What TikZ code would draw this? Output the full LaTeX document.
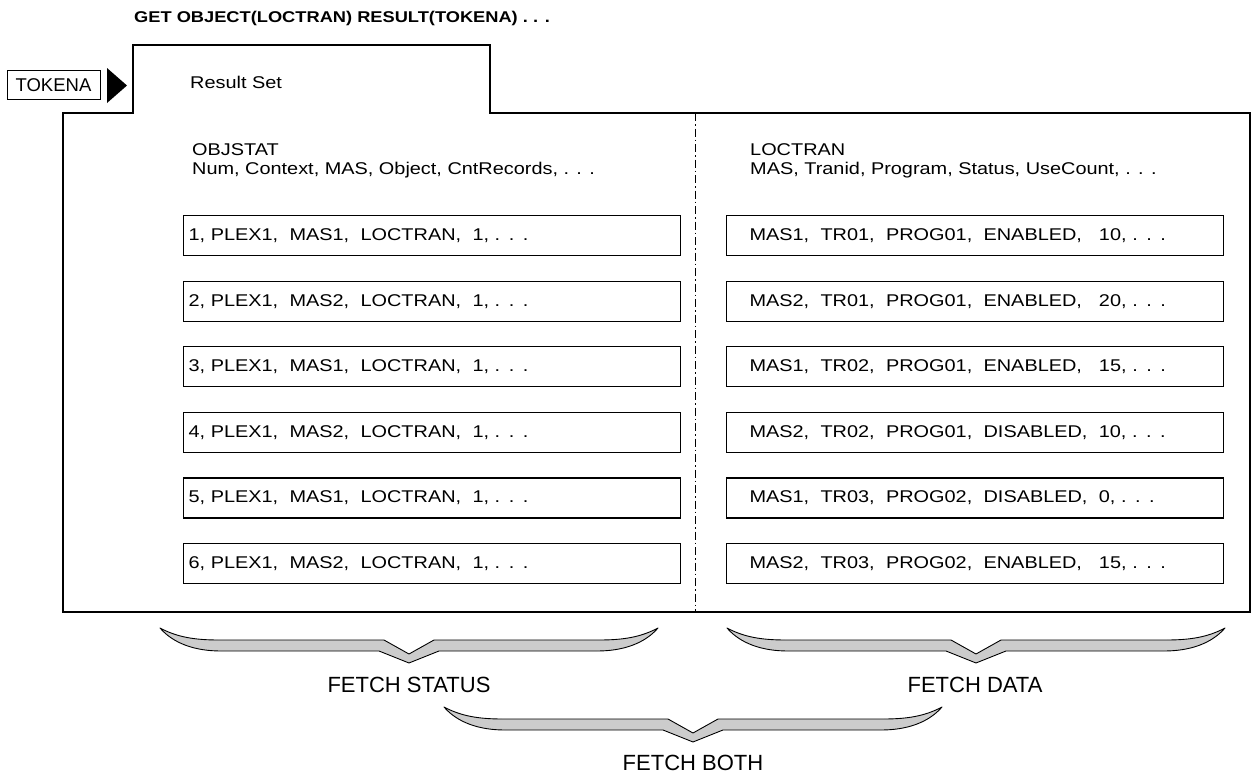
\documentclass[tikz,border=0pt]{standalone}
\usepackage{fontspec}
\setmainfont{Liberation Sans}
\newfontfamily\bodyfont[FakeStretch=1.17]{Liberation Sans}
\begin{document}
\begin{tikzpicture}[x=1pt,y=-1pt,
  txt/.style={inner sep=0pt,anchor=base west,font=\bodyfont\fontsize{17}{20}\selectfont},
  lbl/.style={inner sep=0pt,anchor=base,font=\fontsize{22}{26}\selectfont},
  rowbox/.style={draw,line width=1.1pt,rectangle,anchor=north west,minimum width=497pt,minimum height=40pt,
     text width=487pt,inner xsep=5pt,align=left,font=\bodyfont\fontsize{17}{20}\selectfont},
  outline/.style={line width=1.2pt,line join=miter},
  divider/.style={line width=0.9pt,dash pattern=on 8pt off 3pt on 1.5pt off 3pt},
  gbrace/.pic={
    \draw[line width=0.9pt,fill=black!20,line join=round]
      (-249,0) .. controls (-232,9) and (-215,12) .. (-190,12) -- (-25,12) -- (0,26) -- (25,12) -- (190,12)
      .. controls (215,12) and (232,9) .. (249,0)
      .. controls (236,15) and (215,23) .. (188,23) -- (30,23) -- (0,35) -- (-30,23) -- (-188,23)
      .. controls (-215,23) and (-236,15) .. (-249,0) -- cycle;
  }]
\newcommand{\lrow}[3]{#1, PLEX1,\ \ #2,\ \ LOCTRAN,\ \ #3, . . .}
\newcommand{\rrow}[6]{\hspace*{18pt}#1,\ \ #2,\ \ #3,\ \ #4,#5#6, . . .}
\useasboundingbox (0,0) rectangle (1259,774);

% title
\node[inner sep=0pt,anchor=base west,font=\bodyfont\bfseries\fontsize{15.6}{18}\selectfont] (title) at (134,22) {GET OBJECT(LOCTRAN) RESULT(TOKENA) . . .};

% token and pointer
\node[draw,line width=1pt,minimum width=93pt,minimum height=29pt,inner sep=0pt,font=\fontsize{18.5}{21}\selectfont] (token) at (53.5,85) {TOKENA};
\fill (107,68) -- (127,85.5) -- (107,103) -- cycle;

% result set outline
\draw[outline] (63,612) -- (63,113) -- (133,113) -- (133,45) -- (490,45) -- (490,113) -- (1250,113) -- (1250,612) -- cycle;
\coordinate (dtop) at (695,113);
\coordinate (dbot) at (695,612);
\draw[divider] (dtop) -- (dbot);

\node[txt] (rs) at (190,88) {Result Set};
\node[txt] (objstat) at (192,155) {OBJSTAT};
\node[txt] (objcols) at (192,174) {Num, Context, MAS, Object, CntRecords, . . .};
\node[txt] (loctran) at (750,155) {LOCTRAN};
\node[txt] (loccols) at (750,174) {MAS, Tranid, Program, Status, UseCount, . . .};

% left rows
\node[rowbox] (l1) at (183,215)   {\lrow{1}{MAS1}{1}};
\node[rowbox] (l2) at (183,280.6) {\lrow{2}{MAS2}{1}};
\node[rowbox] (l3) at (183,346.2) {\lrow{3}{MAS1}{1}};
\node[rowbox] (l4) at (183,411.8) {\lrow{4}{MAS2}{1}};
\node[rowbox] (l5) at (183,477.4) {\lrow{5}{MAS1}{1}};
\node[rowbox] (l6) at (183,543)   {\lrow{6}{MAS2}{1}};

% right rows
\node[rowbox] (r1) at (726,215)   {\rrow{MAS1}{TR01}{PROG01}{ENABLED}{\ \ \ }{10}};
\node[rowbox] (r2) at (726,280.6) {\rrow{MAS2}{TR01}{PROG01}{ENABLED}{\ \ \ }{20}};
\node[rowbox] (r3) at (726,346.2) {\rrow{MAS1}{TR02}{PROG01}{ENABLED}{\ \ \ }{15}};
\node[rowbox] (r4) at (726,411.8) {\rrow{MAS2}{TR02}{PROG01}{DISABLED}{\ \ }{10}};
\node[rowbox] (r5) at (726,477.4) {\rrow{MAS1}{TR03}{PROG02}{DISABLED}{\ \ }{0}};
\node[rowbox] (r6) at (726,543)   {\rrow{MAS2}{TR03}{PROG02}{ENABLED}{\ \ \ }{15}};

% braces
\pic at (409,628) {gbrace};
\pic at (976,628) {gbrace};
\pic at (693,707) {gbrace};
\node[lbl] (fs) at (409,692) {FETCH STATUS};
\node[lbl] (fd) at (975,692) {FETCH DATA};
\node[lbl] (fb) at (693,770) {FETCH BOTH};
\end{tikzpicture}
\end{document}
